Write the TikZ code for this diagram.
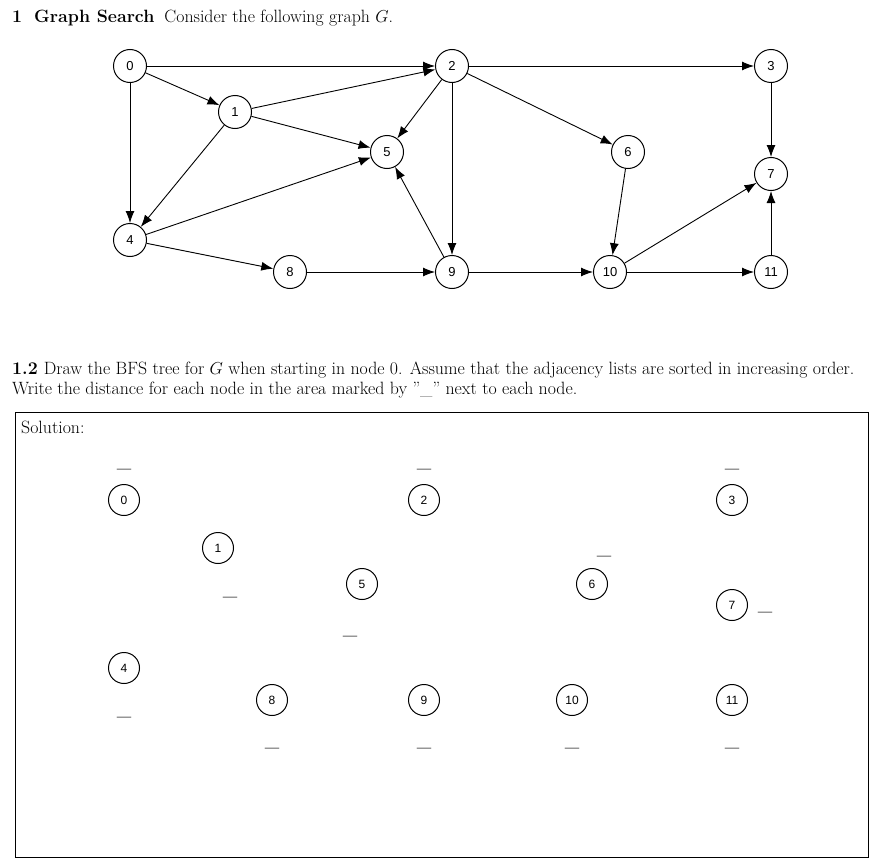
\documentclass[tikz,border=0pt]{standalone}
\usepackage{fontspec}
\newfontfamily\nodefont{Liberation Sans}
\usetikzlibrary{arrows.meta}
\begin{document}
\begin{tikzpicture}[x=1pt,y=-1pt,
  vtx/.style={circle,draw,line width=1pt,minimum size=33pt,inner sep=0pt,font=\nodefont\fontsize{13}{14}\selectfont},
  svtx/.style={circle,draw,line width=1pt,minimum size=31pt,inner sep=0pt,font=\nodefont\fontsize{12}{14}\selectfont},
  edge/.style={-{Latex[length=12pt,width=9pt]},line width=0.9pt},
  txt/.style={anchor=west,inner sep=0pt,font=\fontsize{17.8}{20}\selectfont},
  dsh/.style={inner sep=0pt,text=black!85,font=\bfseries\fontsize{17}{17}\selectfont}]
\useasboundingbox (0,0) rectangle (883,867);
\node[txt] (h) at (12,18) {\textbf{1}\hspace{12pt}\textbf{Graph Search}\hspace{10pt}Consider the following graph $G$.};
\node[vtx] (a0) at (130,66) {0};
\node[vtx] (a1) at (235,112) {1};
\node[vtx] (a2) at (452,66) {2};
\node[vtx] (a3) at (771,66) {3};
\node[vtx] (a4) at (130,240) {4};
\node[vtx] (a5) at (387,152) {5};
\node[vtx] (a6) at (628,152) {6};
\node[vtx] (a7) at (771,174) {7};
\node[vtx] (a8) at (290,272) {8};
\node[vtx] (a9) at (452,272) {9};
\node[vtx] (a10) at (610,272) {10};
\node[vtx] (a11) at (771,272) {11};
\foreach \s/\t in {a0/a2,a0/a1,a0/a4,a1/a2,a1/a5,a1/a4,a2/a5,a2/a9,a2/a3,a2/a6,a3/a7,a4/a5,a4/a8,a8/a9,a9/a5,a9/a10,a6/a10,a10/a7,a10/a11,a11/a7}
  \draw[edge] (\s) -- (\t);
\node[txt] (q1) at (12,370) {\textbf{1.2}\hspace{6pt}Draw the BFS tree for $G$ when starting in node 0. Assume that the adjacency lists are sorted in increasing order.};
\node[txt] (q2) at (12,390) {Write the distance for each node in the area marked by "\_" next to each node.};
\draw[line width=0.8pt] (15,412) rectangle (868,857);
\node[txt] (sol) at (21,427) {Solution:};
\node[svtx] (b0) at (124,500) {0};
\node[svtx] (b1) at (218,548) {1};
\node[svtx] (b2) at (424,500) {2};
\node[svtx] (b3) at (732,500) {3};
\node[svtx] (b4) at (124,668) {4};
\node[svtx] (b5) at (362,584) {5};
\node[svtx] (b6) at (592,584) {6};
\node[svtx] (b7) at (732,605) {7};
\node[svtx] (b8) at (272,700) {8};
\node[svtx] (b9) at (424,700) {9};
\node[svtx] (b10) at (572,700) {10};
\node[svtx] (b11) at (732,700) {11};
\foreach \n/\x/\y in {d0/124/469,d1/230/597,d2/424/469,d3/732/469,d5/350/636,d6/604/556,d7/765/612,d4/124/717,d8/272/748,d9/424/748,d10/572/748,d11/732/748}
  \node[dsh] (\n) at (\x,\y) {\_};
\end{tikzpicture}
\end{document}
